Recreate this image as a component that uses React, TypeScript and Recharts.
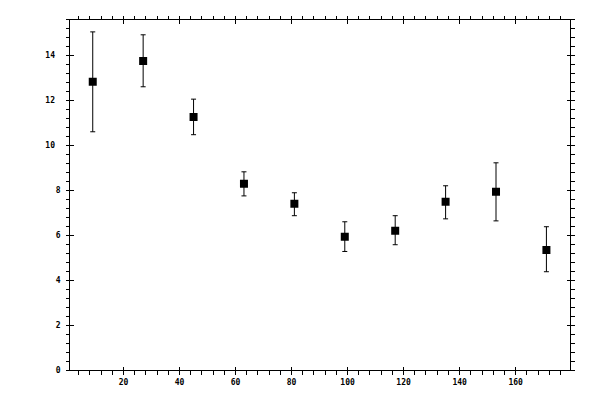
import React from "react";
import { ScatterChart, Scatter, XAxis, YAxis, ZAxis, ErrorBar } from "recharts";

// bin centres (x), measured value, lower / upper end of the error bar
const angles = [9, 27, 45, 63, 81, 99, 117, 135, 153, 171];
const values = [12.83, 13.76, 11.27, 8.3, 7.41, 5.94, 6.21, 7.5, 7.94, 5.36];
const lowers = [10.61, 12.61, 10.48, 7.76, 6.88, 5.29, 5.59, 6.74, 6.65, 4.39];
const uppers = [15.05, 14.92, 12.06, 8.83, 7.9, 6.61, 6.88, 8.21, 9.23, 6.39];

const xMajorTicks = [20, 40, 60, 80, 100, 120, 140, 160];
const yMajorTicks = [0, 2, 4, 6, 8, 10, 12, 14];

// minor ticks every 4 on x and every 0.4 on y
const xTicks: number[] = [];
for (let i = 1; i <= 44; i++) xTicks.push(i * 4);
const yTicks: number[] = [];
for (let i = 0; i <= 39; i++) yTicks.push(Math.round(i * 4) / 10);

const data = angles.map((a, i) => ({
  x: a,
  y: values[i],
  err: [values[i] - lowers[i], uppers[i] - values[i]],
}));

const FONT = "'DejaVu Sans Mono', monospace";
const isMajorX = (v: number) => xMajorTicks.includes(v);
const isMajorY = (v: number) => yMajorTicks.includes(v);

function BottomTick({ x, y, payload }: any) {
  const major = isMajorX(payload.value);
  return (
    <g>
      <line x1={x} x2={x} y1={major ? y - 4 : y} y2={y + 4} stroke="#000" shapeRendering="crispEdges" />
      {major && (
        <text x={x} y={y + 12} textAnchor="middle" dominantBaseline="middle" fontSize={8} fontWeight="bold" fontFamily={FONT} fill="#000">
          {payload.value}
        </text>
      )}
    </g>
  );
}

function TopTick({ x, y, payload }: any) {
  const major = isMajorX(payload.value);
  return (
    <line x1={x} x2={x} y1={y - 4} y2={major ? y + 4 : y} stroke="#000" shapeRendering="crispEdges" />
  );
}

function LeftTick({ x, y, payload }: any) {
  const major = isMajorY(payload.value);
  const label = String(payload.value);
  return (
    <g>
      <line x1={x - 4} x2={major ? x + 4 : x} y1={y} y2={y} stroke="#000" shapeRendering="crispEdges" />
      {major && (
        <text
          x={x - (label.length > 1 ? 14.5 : 9)}
          y={y}
          textAnchor="end"
          dominantBaseline="middle"
          fontSize={8}
          fontWeight="bold"
          fontFamily={FONT}
          fill="#000"
        >
          {label}
        </text>
      )}
    </g>
  );
}

function RightTick({ x, y, payload }: any) {
  const major = isMajorY(payload.value);
  return (
    <line x1={major ? x - 4 : x} x2={x + 4} y1={y} y2={y} stroke="#000" shapeRendering="crispEdges" />
  );
}

const axisLine = { stroke: "#000", shapeRendering: "crispEdges" } as any;

export default function App() {
  return (
    <div style={{ position: "absolute", left: 0, top: 0, width: 600, height: 400, background: "#fff" }}>
      <ScatterChart
        width={600}
        height={400}
        margin={{ top: 18.5, right: 28.5, bottom: 0, left: 29.5 }}
      >
        <XAxis
          xAxisId="bottom"
          dataKey="x"
          type="number"
          domain={[0.7, 179.6]}
          allowDataOverflow
          ticks={xTicks}
          interval={0}
          height={29.5}
          tickSize={0}
          tickMargin={0}
          axisLine={axisLine}
          tickLine={false}
          tick={(p: any) => <BottomTick {...p} />}
        />
        <XAxis
          xAxisId="top"
          orientation="top"
          dataKey="x"
          type="number"
          domain={[0.7, 179.6]}
          allowDataOverflow
          ticks={xTicks}
          interval={0}
          height={1}
          tickSize={0}
          tickMargin={0}
          axisLine={axisLine}
          tickLine={false}
          tick={(p: any) => <TopTick {...p} />}
        />
        <YAxis
          yAxisId="left"
          dataKey="y"
          type="number"
          domain={[0, 15.6]}
          allowDataOverflow
          ticks={yTicks}
          interval={0}
          width={40}
          tickSize={0}
          tickMargin={0}
          axisLine={axisLine}
          tickLine={false}
          tick={(p: any) => <LeftTick {...p} />}
        />
        <YAxis
          yAxisId="right"
          orientation="right"
          dataKey="y"
          type="number"
          domain={[0, 15.6]}
          allowDataOverflow
          ticks={yTicks}
          interval={0}
          width={1}
          tickSize={0}
          tickMargin={0}
          axisLine={axisLine}
          tickLine={false}
          tick={(p: any) => <RightTick {...p} />}
        />
        <ZAxis range={[49, 49]} />
        <Scatter
          data={data}
          xAxisId="bottom"
          yAxisId="left"
          fill="#000"
          shape="square"
          isAnimationActive={false}
        >
          <ErrorBar
            dataKey="err"
            direction="y"
            width={2.5}
            stroke="#000"
            strokeWidth={1}
            isAnimationActive={false}
          />
        </Scatter>
      </ScatterChart>
    </div>
  );
}
